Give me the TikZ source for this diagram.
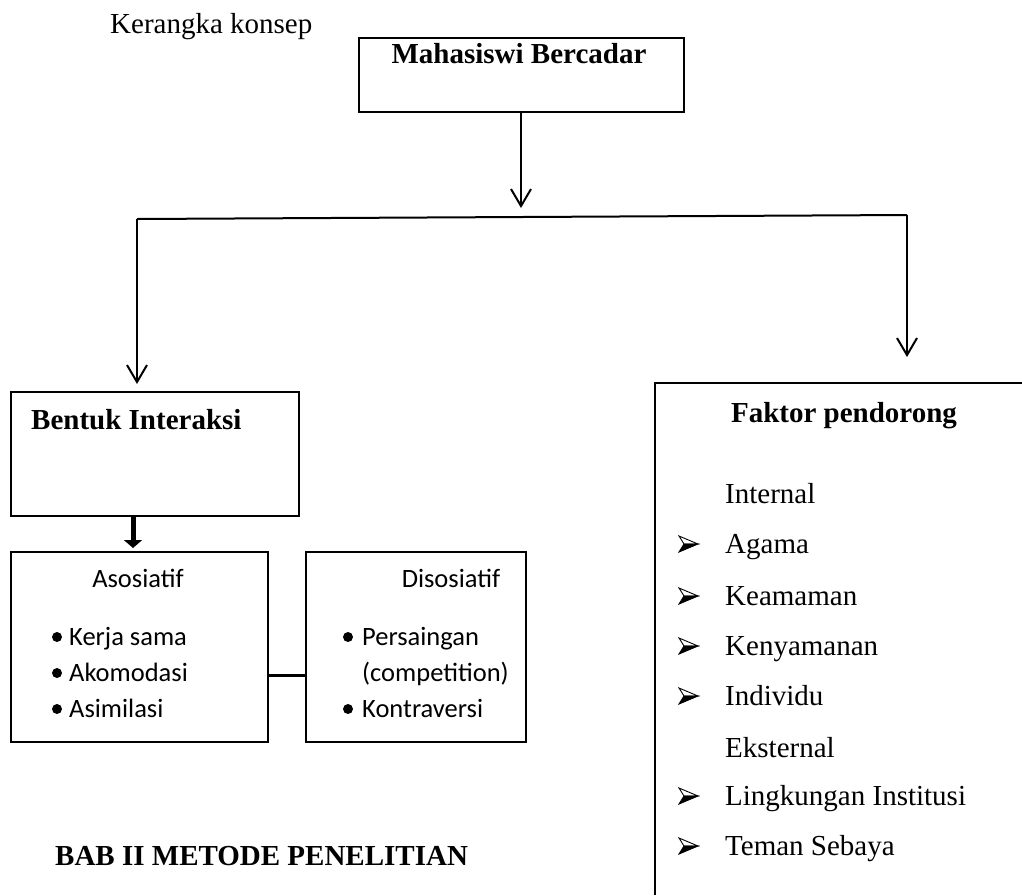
\documentclass[tikz,border=0pt]{standalone}
\usepackage{fontspec}
\setmainfont{Liberation Serif}
\newfontfamily\calibri{Carlito}
\usetikzlibrary{arrows.meta,calc}
\begin{document}
\begin{tikzpicture}[x=1pt,y=-1pt,
  box/.style={draw, line width=2pt, rectangle, inner sep=0pt, anchor=north west},
  conn/.style={line width=2pt},
  arr/.style={line width=2pt, -{Straight Barb[length=17pt,width=20pt]}},
  tnr/.style={font=\fontsize{29}{35}\selectfont, inner sep=0pt, anchor=base west},
  tnrb/.style={font=\fontsize{29}{35}\selectfont\bfseries, inner sep=0pt, anchor=base west},
  cal/.style={font=\calibri\fontsize{26.5}{31}\selectfont, inner sep=0pt, anchor=base west},
  bul/.style={circle, fill=black, inner sep=0pt, minimum size=10pt},
  arrowbullet/.pic={
    \filldraw[fill=white, line width=0.9pt, line join=miter] (10,0) -- (-9,-8) -- (-4,0) -- cycle;
    \filldraw[fill=black, line width=0.9pt, line join=miter] (10,0) -- (-4,0) -- (-9,8) -- cycle;
  }
]
\useasboundingbox (0,0) rectangle (1022,895);

% title
\node[tnr] (kk) at (110,33) {Kerangka konsep};

% top box
\node[box, minimum width=325pt, minimum height=74pt] (top) at (358,37) {};
\node[tnrb, anchor=base] (topt) at (519,63) {Mahasiswi Bercadar};

% junctions
\coordinate (jl) at (137,219);
\coordinate (jm) at (521,218);
\coordinate (jr) at (907,215);
\coordinate (rtip) at (907,357);

% left boxes
\node[box, minimum width=288pt, minimum height=124pt] (bentuk) at (10,391) {};
\node[tnrb] (bentukt) at (31,429) {Bentuk Interaksi};

\node[box, minimum width=257pt, minimum height=190pt] (asos) at (10,551) {};
\node[box, minimum width=220pt, minimum height=190pt] (disos) at (305,551) {};

\node[cal, anchor=base] (asost) at (138,587) {Asosiatif};
\node[bul] (b1) at (57,637) {};
\node[cal] (a1) at (69,645) {Kerja sama};
\node[bul] (b2) at (57,673) {};
\node[cal] (a2) at (69,681) {Akomodasi};
\node[bul] (b3) at (57,709) {};
\node[cal] (a3) at (69,717) {Asimilasi};

\node[cal, anchor=base] (disost) at (451,587) {Disosiatif};
\node[bul] (d1b) at (348,637) {};
\node[cal] (d1) at (362,645) {Persaingan};
\node[cal] (d2) at (362,681) {(competition)};
\node[bul] (d3b) at (348,709) {};
\node[cal] (d3) at (362,717) {Kontraversi};

% right box (open on right and bottom)
\coordinate (rb-tr) at (1022,383);
\coordinate (rb-tl) at (655,383);
\coordinate (rb-bl) at (655,895);
\draw[conn] (rb-tr) -- (rb-tl) -- (rb-bl);

\node[tnrb, anchor=base] (fak) at (844,422) {Faktor pendorong};
\node[tnr] (int) at (725,503) {Internal};
\pic at (688,544) {arrowbullet};
\node[tnr] (r1) at (725,553) {Agama};
\pic at (688,596) {arrowbullet};
\node[tnr] (r2) at (725,605) {Keamaman};
\pic at (688,646) {arrowbullet};
\node[tnr] (r3) at (725,655) {Kenyamanan};
\pic at (688,696) {arrowbullet};
\node[tnr] (r4) at (725,705) {Individu};
\node[tnr] (eks) at (725,757) {Eksternal};
\pic at (688,796) {arrowbullet};
\node[tnr] (r5) at (725,805) {Lingkungan Institusi};
\pic at (688,846) {arrowbullet};
\node[tnr] (r6) at (725,855) {Teman Sebaya};

% bottom heading
\node[tnrb] (bab) at (55,865) {BAB II METODE PENELITIAN};

% connectors
\draw[arr, shorten >=10pt] ([xshift=163pt]top.south west) -- (jm);
\draw[conn] (jl) -- (jr);
\draw[arr, shorten >=7pt] (jl) -- ([xshift=127pt]bentuk.north west);
\draw[arr] (jr) -- (rtip);
\draw[line width=5pt, -{Triangle[length=8pt,width=18pt]}, shorten >=3pt]
  ([xshift=123pt]bentuk.south west) -- ([xshift=123pt]asos.north west);
\draw[line width=3pt] ([yshift=-124pt]asos.north east) -- ([yshift=-124pt]disos.north west);
\end{tikzpicture}
\end{document}
